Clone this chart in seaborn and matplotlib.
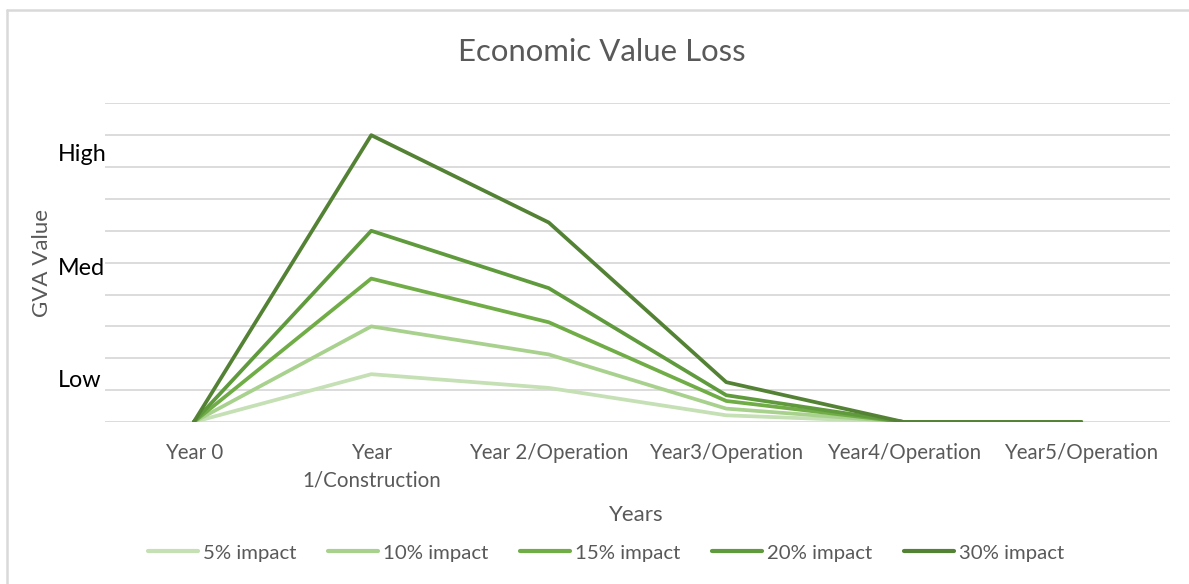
import matplotlib
matplotlib.use("Agg")
import matplotlib.pyplot as plt
from matplotlib.lines import Line2D
import matplotlib.transforms as mtransforms
import numpy as np
import pandas as pd
import seaborn as sns

# Categories along the x axis
years = ["Year 0", "Year\n1/Construction", "Year 2/Operation",
         "Year3/Operation", "Year4/Operation", "Year5/Operation"]

# GVA loss per scenario (chart units, 0-10)
impact_5 = [0, 1.5, 1.07, 0.21, 0, 0]
impact_10 = [0, 3.0, 2.12, 0.42, 0, 0]
impact_15 = [0, 4.5, 3.13, 0.66, 0, 0]
impact_20 = [0, 6.0, 4.2, 0.84, 0, 0]
impact_30 = [0, 9.0, 6.26, 1.25, 0, 0]

series_names = ["5% impact", "10% impact", "15% impact", "20% impact", "30% impact"]
series_values = [impact_5, impact_10, impact_15, impact_20, impact_30]
series_colors = ["#c5e0b4", "#a9d18e", "#70ad47", "#5f9a3c", "#548235"]

# Qualitative level markers on the value axis
level_labels = ["High", "Med", "Low"]
level_values = [8.38, 4.83, 1.29]

rows = []
for name, vals in zip(series_names, series_values):
    for yr, v in zip(years, vals):
        rows.append({"Years": yr, "GVA Value": v, "Scenario": name})
df = pd.DataFrame(rows)

sns.set_theme(style="white")
plt.rcParams["font.family"] = ["Lato", "DejaVu Sans"]

grey = "#595959"
grid_col = "#d9d9d9"

fig = plt.figure(figsize=(11.89, 5.84), dpi=100)
ax = fig.add_axes([105 / 1189, 1 - 422 / 584, (1170 - 105) / 1189, (422 - 103.3) / 584])

sns.lineplot(data=df, x="Years", y="GVA Value", hue="Scenario",
             hue_order=series_names, palette=dict(zip(series_names, series_colors)),
             sort=False, linewidth=2.7, ax=ax, legend=True, zorder=3)

ax.set_xlim(-0.5, len(years) - 0.5)
ax.set_ylim(0, 10)
ax.set_yticks(np.arange(0, 11, 1))
ax.set_yticklabels([])
ax.tick_params(axis="y", length=0)
ax.yaxis.grid(True, color=grid_col, linewidth=1.3, zorder=0)
ax.xaxis.grid(False)
for s in ax.spines.values():
    s.set_visible(False)

ax.set_xticks(range(len(years)))
ax.set_xticklabels(years, color=grey, fontsize=14.8, linespacing=1.45)
ax.tick_params(axis="x", length=0, pad=15)

# Level labels to the left of the plot
trans = mtransforms.blended_transform_factory(fig.transFigure, ax.transData)
for lab, v in zip(level_labels, level_values):
    ax.text(58 / 1189, v, lab, transform=trans, ha="left", va="center",
            fontsize=16.8, color="black")

ax.set_ylabel("")
ax.set_xlabel("")
fig.text(42 / 1189, 1 - 263 / 584, "GVA Value", rotation=90, ha="center",
         va="center", color=grey, fontsize=16)
fig.text(636 / 1189, 1 - 515 / 584, "Years", ha="center", va="center",
         color=grey, fontsize=16)
fig.text(602 / 1189, 1 - 52 / 584, "Economic Value Loss", ha="center",
         va="center", color=grey, fontsize=22.4)

handles, labels = ax.get_legend_handles_labels()
ax.get_legend().remove()
for h in handles:
    h.set_linewidth(3)
fig.legend(handles, labels, loc="center", bbox_to_anchor=(606 / 1189, 1 - 553 / 584),
           ncol=5, frameon=False, fontsize=14.7, handlelength=2.45,
           handletextpad=0.25, columnspacing=1.55, labelcolor=grey)

# Chart area border (left and top edges)
fig.add_artist(Line2D([7 / 1189, 7 / 1189], [0, 1 - 10 / 584],
                      transform=fig.transFigure, color=grid_col, linewidth=1.8))
fig.add_artist(Line2D([7 / 1189, 1], [1 - 10 / 584, 1 - 10 / 584],
                      transform=fig.transFigure, color=grid_col, linewidth=1.8))

fig.savefig("out.png", dpi=100, facecolor="white")
